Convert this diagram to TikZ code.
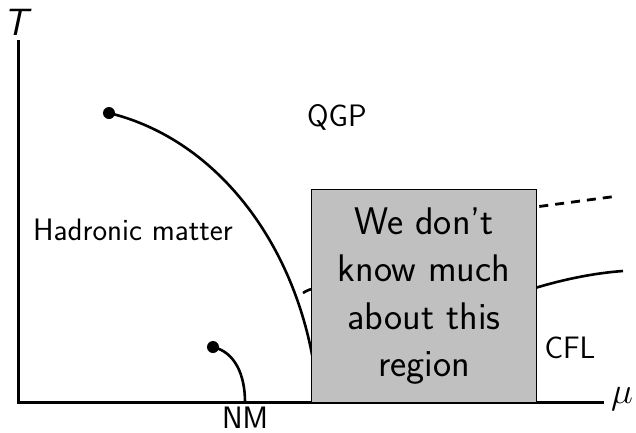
\documentclass[tikz,border=0pt]{standalone}
\usetikzlibrary{calc}
\definecolor{boxgray}{HTML}{C0C0C0}
\begin{document}
\begin{tikzpicture}[x=1pt,y=-1pt,
  axis/.style={line width=3pt},
  phase/.style={line width=2.6pt},
  lbl/.style={font=\fontsize{31}{36}\sffamily, inner sep=0pt},
  dotmark/.style={circle, fill=black, inner sep=0pt, minimum size=12pt}]
\useasboundingbox (0,0) rectangle (636,432);
% axes
\coordinate (O) at (18,402);
\coordinate (Ytop) at (18,40);
\coordinate (Xend) at (604,402);
\draw[axis] (Ytop) -- (O) -- (Xend);
\node[font=\fontsize{38}{42}\sffamily\itshape, inner sep=0pt] (T) at (16,22) {T};
\node[font=\Huge, scale=1.49, inner sep=0pt] (mu) at (622,399) {$\mu$};
% critical points
\node[dotmark] (cp1) at (109,113) {};
\node[dotmark] (cp2) at (213,347) {};
% phase lines
\coordinate (a1) at (316,380);
\draw[phase] (cp1.center) .. controls (220,140) and (300,250) .. (a1);
\coordinate (nm) at (245,402);
\draw[phase] (cp2.center) .. controls (235,352) and (245,375) .. (nm);
\coordinate (c0) at (303,293);
\coordinate (c1) at (623,271);
\draw[phase] (c0) .. controls (330,272) and (500,300) .. (535,288) .. controls (565,279) and (595,273) .. (c1);
\coordinate (d0) at (460,217);
\coordinate (d1) at (618,196);
\draw[line width=2.8pt, dash pattern=on 9pt off 7pt] (d0) -- (d1);
% unknown region box
\node[draw=black, line width=0.8pt, fill=boxgray, minimum width=225pt, minimum height=213pt, inner sep=0pt] (box) at (423.5,295.5) {};
\node[align=center, font=\fontsize{38.5}{47.5}\sffamily, inner sep=0pt] (boxtext) at (424,296) {We don't\\know much\\about this\\region};
% labels
\node[lbl] (qgp) at (337,117) {QGP};
\node[lbl] (had) at (133,230) {Hadronic matter};
\node[lbl] (cfl) at (570,348) {CFL};
\node[lbl] (nmlbl) at (245,418) {NM};
\end{tikzpicture}
\end{document}
